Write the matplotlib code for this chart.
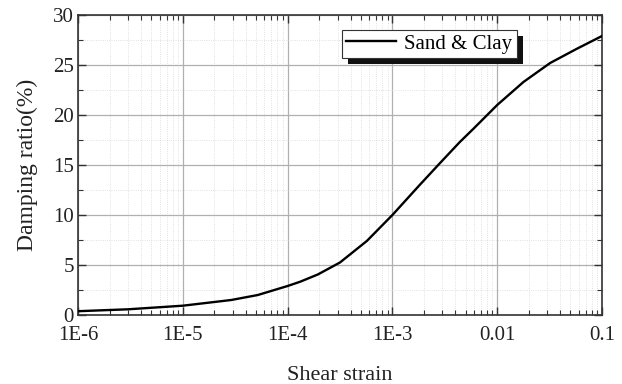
import matplotlib
matplotlib.use("Agg")
import matplotlib.pyplot as plt
from matplotlib.ticker import LogLocator, FixedLocator, MultipleLocator, NullFormatter
import matplotlib.patches as mpatches

plt.rcParams['font.family'] = ['Liberation Serif', 'DejaVu Serif']

# Damping ratio vs shear strain
strain = [1e-6, 3.0e-6, 1e-5, 2.9e-5, 5.2e-5, 1e-4, 1.32e-4, 1.94e-4, 3.16e-4,
          5.7e-4, 1e-3, 1.82e-3, 2.85e-3, 4.4e-3, 5.9e-3, 1e-2, 1.78e-2,
          3.2e-2, 5.7e-2, 1e-1]
damping = [0.38, 0.57, 0.93, 1.5, 2.0, 2.9, 3.33, 4.05, 5.25,
           7.4, 10.0, 13.0, 15.2, 17.3, 18.6, 21.0, 23.3,
           25.2, 26.6, 27.9]
series_label = "Sand & Clay"
xtick_vals = [1e-6, 1e-5, 1e-4, 1e-3, 1e-2, 1e-1]
xtick_labels = ["1E-6", "1E-5", "1E-4", "1E-3", "0.01", "0.1"]
ytick_vals = [0, 5, 10, 15, 20, 25, 30]

fig = plt.figure(figsize=(6.22, 3.84), dpi=100)
ax = fig.add_axes([78/622, 1-315/384, (602-78)/622, (315-15)/384])

ax.plot(strain, damping, color='black', lw=1.7, label=series_label, zorder=3,
        solid_joinstyle='round')

ax.set_xscale('log')
ax.set_xlim(1e-6, 1e-1)
ax.set_ylim(0, 30)
ax.xaxis.set_major_locator(FixedLocator(xtick_vals))
ax.set_xticklabels(xtick_labels)
ax.xaxis.set_minor_locator(LogLocator(base=10, subs=range(2, 10), numticks=20))
ax.xaxis.set_minor_formatter(NullFormatter())
ax.set_yticks(ytick_vals)
ax.yaxis.set_minor_locator(MultipleLocator(2.5))

ax.grid(which='major', color='#b0b0b0', lw=0.9, ls='-')
ax.grid(which='minor', color='#d8d8d8', lw=0.6, ls=':')
ax.set_axisbelow(True)

ax.tick_params(which='both', direction='in', top=True, right=True, labelsize=15,
               color='#333333', labelcolor='#222222')
ax.tick_params(which='major', length=6, width=1.0)
ax.tick_params(which='minor', length=3.5, width=0.8)
ax.tick_params(axis='x', pad=8)
ax.tick_params(axis='y', pad=3)
for s in ax.spines.values():
    s.set_color('#333333')
    s.set_linewidth(1.2)

ax.set_xlabel("Shear strain", fontsize=16, labelpad=15, color='#222222')
ax.set_ylabel("Damping ratio(%)", fontsize=17, labelpad=11, color='#222222')

# Legend with a solid drop shadow
leg = ax.legend(loc='upper left', bbox_to_anchor=((342-78)/524, 1-(30-15)/300),
                fontsize=15, frameon=True, fancybox=False, shadow=False,
                borderpad=0.2, handlelength=2.4, handletextpad=0.4,
                borderaxespad=0, framealpha=1)
leg.get_frame().set_edgecolor('#333333')
leg.get_frame().set_linewidth(0.8)
leg.set_zorder(6)
fig.canvas.draw()
bb = leg.get_window_extent().transformed(ax.transAxes.inverted())
dx = 6 / (602 - 78)
dy = 6 / (315 - 15)
shadow = mpatches.Rectangle((bb.x0 + dx, bb.y0 - dy), bb.width, bb.height,
                            transform=ax.transAxes, facecolor='#111111',
                            edgecolor='none', zorder=5)
ax.add_patch(shadow)

fig.savefig("out.png", dpi=100)
